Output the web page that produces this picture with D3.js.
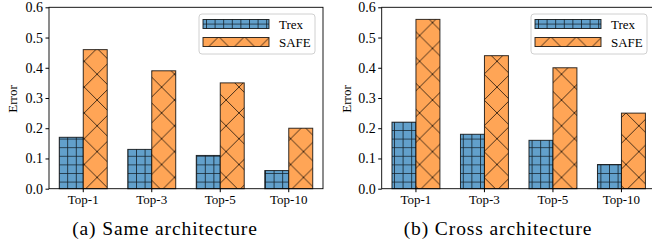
<!DOCTYPE html>
<html>
<head>
<meta charset="utf-8">
<script src="https://cdn.jsdelivr.net/npm/d3@7"></script>
<style>
  body { margin: 0; background: #fff; }
  svg text { font-family: "Liberation Serif", "Times New Roman", serif; fill: #000; }
</style>
</head>
<body>
<svg id="chart" width="652" height="245"></svg>
<script>
const categories = ["Top-1", "Top-3", "Top-5", "Top-10"];
const seriesNames = ["Trex", "SAFE"];
const trexSame = [0.17, 0.13, 0.11, 0.06];
const safeSame = [0.46, 0.39, 0.35, 0.20];
const trexCross = [0.22, 0.18, 0.16, 0.08];
const safeCross = [0.56, 0.44, 0.40, 0.25];
const yTicks = [0.0, 0.1, 0.2, 0.3, 0.4, 0.5, 0.6];
const captions = ["(a) Same architecture", "(b) Cross architecture"];

const svg = d3.select("#chart");
const fills = ["#62a0cb", "#ffa556"];
const edge = "rgba(0,0,0,0.8)";

// hatch patterns: grid for Trex, crosses for SAFE
const defs = svg.append("defs");
const g = 8.6, p = 25.8;
let grid = defs.append("pattern").attr("id", "hatch0")
    .attr("patternUnits", "userSpaceOnUse")
    .attr("x", 7).attr("y", 1).attr("width", g).attr("height", g);
grid.append("rect").attr("width", g).attr("height", g).attr("fill", fills[0]);
grid.append("path").attr("d", `M0,0 L0,${g} M0,0 L${g},0`)
    .attr("stroke", edge).attr("stroke-width", 1.6).attr("fill", "none");

let cross = defs.append("pattern").attr("id", "hatch1")
    .attr("patternUnits", "userSpaceOnUse")
    .attr("x", 6.8).attr("y", 9.7).attr("width", p).attr("height", p);
cross.append("rect").attr("width", p).attr("height", p).attr("fill", fills[1]);
cross.append("path").attr("d", `M0,0 L${p},${p} M0,${p} L${p},0`)
    .attr("stroke", edge).attr("stroke-width", 0.9).attr("fill", "none");

const panels = [
  {left: 49, right: 323, trex: trexSame, safe: safeSame, ylab: 12, legX: 199, capX: 165, cap: captions[0]},
  {left: 381.7, right: 655.7, trex: trexCross, safe: safeCross, ylab: 346.5, legX: 531, capX: 498, cap: captions[1]}
];
const plotTop = 7.3, plotBottom = 188.7;

panels.forEach(function(pn) {
  let x = d3.scaleBand().domain(categories).range([pn.left, pn.right]).padding(0);
  let y = d3.scaleLinear().domain([0, 0.6]).range([plotBottom, plotTop]);
  let bw = x.bandwidth() * 0.35;
  let chart = svg.append("g");

  let rows = categories.map((c, i) => ({cat: c, vals: [pn.trex[i], pn.safe[i]]}));
  [0, 1].forEach(function(s) {
    chart.selectAll(".bar" + s)
      .data(rows)
      .enter().append("rect")
      .attr("x", d => x(d.cat) + x.bandwidth() / 2 + (s - 1) * bw)
      .attr("y", d => y(d.vals[s]))
      .attr("width", bw)
      .attr("height", d => y(0) - y(d.vals[s]))
      .attr("fill", "url(#hatch" + s + ")")
      .attr("stroke", edge)
      .attr("stroke-width", 1);
  });

  // frame
  chart.append("rect")
    .attr("x", pn.left).attr("y", plotTop)
    .attr("width", pn.right - pn.left).attr("height", plotBottom - plotTop)
    .attr("fill", "none").attr("stroke", "#000").attr("stroke-width", 0.9);

  let yAxis = d3.axisLeft(y).tickValues(yTicks).tickFormat(d3.format(".1f"))
      .tickSize(3.5).tickPadding(2.5);
  let ya = chart.append("g").attr("transform", "translate(" + pn.left + ",0)").call(yAxis);
  ya.select(".domain").remove();
  ya.selectAll("text").style("font-size", "14px").style("font-family", "Liberation Serif");

  let xAxis = d3.axisBottom(x).tickSize(3.5).tickPadding(2.3);
  let xa = chart.append("g").attr("transform", "translate(0," + plotBottom + ")").call(xAxis);
  xa.select(".domain").remove();
  xa.selectAll("text").style("font-size", "13px").style("font-family", "Liberation Serif");

  chart.append("text").text("Error")
    .attr("transform", "translate(" + pn.ylab + "," + ((plotTop + plotBottom) / 2 + 1) + ") rotate(-90)")
    .attr("text-anchor", "middle").attr("dy", "0.35em")
    .style("font-size", "13px");

  // legend
  let lg = chart.append("g").attr("transform", "translate(" + pn.legX + ",14)");
  lg.append("rect").attr("width", 116).attr("height", 40).attr("rx", 3)
    .attr("fill", "rgba(255,255,255,0.8)").attr("stroke", "#d0d0d0").attr("stroke-width", 1);
  seriesNames.forEach(function(name, s) {
    lg.append("rect").attr("x", 4).attr("y", 5.5 + s * 18).attr("width", 66).attr("height", 9)
      .attr("fill", "url(#hatch" + s + ")").attr("stroke", edge).attr("stroke-width", 1);
    lg.append("text").text(name).attr("x", 80).attr("y", 10.5 + s * 18).attr("dy", "0.35em")
      .style("font-size", "13px");
  });

  chart.append("text").text(pn.cap)
    .attr("x", pn.capX)
    .attr("y", 235)
    .attr("text-anchor", "middle")
    .style("font-size", "19.5px")
    .style("letter-spacing", "0.9px");
});
</script>
</body>
</html>
